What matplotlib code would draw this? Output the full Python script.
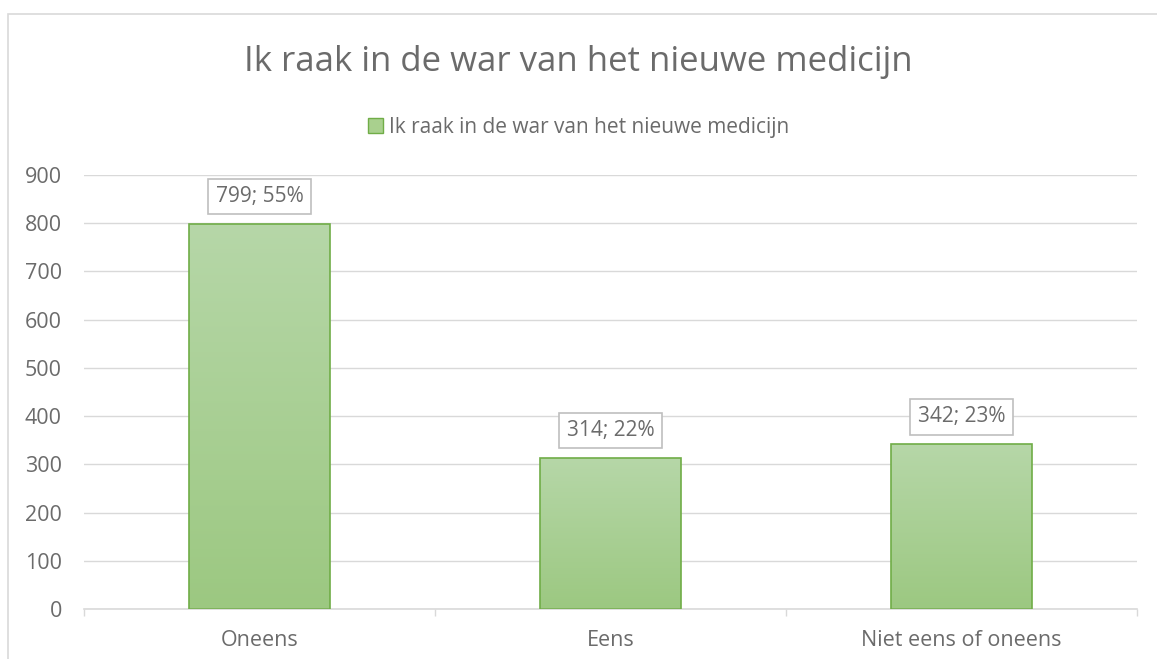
import numpy as np
import matplotlib
matplotlib.use('Agg')
import matplotlib.pyplot as plt
from matplotlib.colors import LinearSegmentedColormap
from matplotlib.patches import Rectangle, Patch

categories = ['Oneens', 'Eens', 'Niet eens of oneens']
counts = [799, 314, 342]
percents = [55, 22, 23]
series_name = 'Ik raak in de war van het nieuwe medicijn'
title = 'Ik raak in de war van het nieuwe medicijn'

plt.rcParams['font.family'] = ['Open Sans', 'DejaVu Sans']
txt = '#6b6b6b'

fig = plt.figure(figsize=(11.57, 6.59), dpi=100)
# outer chart border
fig.patches.append(Rectangle((8/1157, -0.01), 1.2, 1 - 14/659 + 0.01, transform=fig.transFigure,
                             fill=False, edgecolor='#d9d9d9', linewidth=1.2))

ax = fig.add_axes([84/1157, 50/659, 1053/1157, 434/659])
x = np.arange(len(categories))
bars = ax.bar(x, counts, width=0.4, color='none', edgecolor='#70ad47', linewidth=1.2, zorder=3)

cmap = LinearSegmentedColormap.from_list('g', ['#9cc881', '#b6d7a8'])
grad = np.linspace(0, 1, 256).reshape(-1, 1)
for b in bars:
    x0, y0 = b.get_x(), b.get_y()
    im = ax.imshow(grad, cmap=cmap, aspect='auto', origin='lower',
                   extent=(x0, x0 + b.get_width(), y0, y0 + b.get_height()), zorder=2)
    im.set_clip_path(b)

ax.set_xlim(-0.5, 2.5)
ax.set_ylim(0, 900)
ax.set_yticks(range(0, 901, 100))
ax.set_xticks(x)
ax.set_xticklabels(categories)
ax.set_xticks([-0.5, 0.5, 1.5, 2.5], minor=True)
ax.tick_params(axis='x', which='major', length=0, pad=15, labelsize=15.5, labelcolor=txt)
ax.tick_params(axis='x', which='minor', length=5, color='#d9d9d9', width=1)
ax.tick_params(axis='y', length=0, pad=16, labelsize=15.5, labelcolor=txt)
ax.grid(axis='y', color='#d9d9d9', linewidth=1, zorder=0)
for s in ['top', 'right', 'left']:
    ax.spines[s].set_visible(False)
ax.spines['bottom'].set_color('#d9d9d9')
ax.spines['bottom'].set_linewidth(1.2)

for xi, c, p in zip(x, counts, percents):
    ax.annotate('%d; %d%%' % (c, p), (xi, c), xytext=(0, 12), textcoords='offset points',
                ha='center', va='bottom', fontsize=15, color=txt, zorder=5,
                bbox=dict(boxstyle='square,pad=0.35', fc='white', ec='#bfbfbf', lw=1.2))

fig.text(0.5, 1 - 62/659, title, ha='center', va='center', fontsize=25, color=txt)
leg = fig.legend(handles=[Patch(facecolor='#a9d08e', edgecolor='#70ad47', label=series_name)],
                 loc='center', bbox_to_anchor=(0.5, 1 - 127/659), frameon=False,
                 fontsize=15, handlelength=0.7, handleheight=0.7, handletextpad=0.3)
for t in leg.get_texts():
    t.set_color(txt)

fig.savefig('out.png', dpi=100)
